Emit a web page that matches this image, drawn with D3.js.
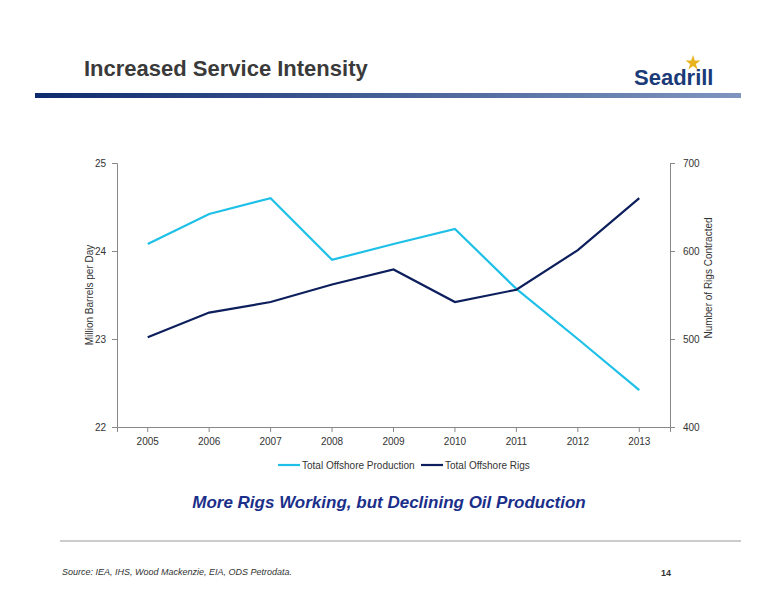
<!DOCTYPE html>
<html><head><meta charset="utf-8">
<script src="https://cdn.jsdelivr.net/npm/d3@7"></script>
<style>body{margin:0;background:#fff;font-family:Arial,"Liberation Sans",sans-serif}</style>
</head><body><div id="vis"></div>
<script>
var years = ["2005","2006","2007","2008","2009","2010","2011","2012","2013"];
var production = [24.08, 24.42, 24.6, 23.9, 24.08, 24.25, 23.57, 23.0, 22.42];
var rigs = [502, 530, 542, 562, 579, 542, 556, 601, 660];
var leftTicks = [22, 23, 24, 25];
var rightTicks = [400, 500, 600, 700];

var width = 776, height = 600;
var svg = d3.select("#vis").append("svg").attr("width", width).attr("height", height);

// header
svg.append("text").attr("x", 84).attr("y", 76).style("font-size", "22px").style("font-weight", "bold")
  .style("fill", "#3a3a3a").text("Increased Service Intensity");
var grad = svg.append("defs").append("linearGradient").attr("id", "hb");
grad.append("stop").attr("offset", "0").attr("stop-color", "#0d2a6e");
grad.append("stop").attr("offset", "1").attr("stop-color", "#7f95c0");
svg.append("rect").attr("x", 35).attr("y", 93).attr("width", 706).attr("height", 5).attr("fill", "url(#hb)");
svg.append("text").attr("x", 634).attr("y", 85).style("font-size", "22px").style("font-weight", "bold")
  .style("fill", "#1b3a78").text("Seadrill");
svg.append("path").attr("transform", "translate(693,63)")
  .attr("d", d3.symbol(d3.symbolStar, 70)()).attr("fill", "#e8b31c");

// chart
var x = d3.scaleBand().domain(years).range([117, 670]);
var yL = d3.scaleLinear().domain([22, 25]).range([427, 163]);
var yR = d3.scaleLinear().domain([400, 700]).range([427, 163]);

function styleAxis(g) {
  g.select(".domain").attr("stroke", "#888");
  g.selectAll(".tick line").attr("stroke", "#888");
  g.selectAll("text").style("font-size", "10px").style("fill", "#333").style("font-family", "Arial,'Liberation Sans',sans-serif");
}
svg.append("g").attr("transform", "translate(117,0)")
  .call(d3.axisLeft(yL).tickValues(leftTicks).tickFormat(d3.format("d")).tickSize(5).tickPadding(6)).call(styleAxis);
svg.append("g").attr("transform", "translate(670,0)")
  .call(d3.axisRight(yR).tickValues(rightTicks).tickSize(5).tickPadding(8)).call(styleAxis);
svg.append("g").attr("transform", "translate(0,427)")
  .call(d3.axisBottom(x).tickSize(5).tickPadding(6)).call(styleAxis);

svg.append("text").attr("transform", "translate(93,295) rotate(-90)").attr("text-anchor", "middle")
  .style("font-size", "10px").style("fill", "#333").text("Million Barrels per Day");
svg.append("text").attr("transform", "translate(712,278) rotate(-90)").attr("text-anchor", "middle")
  .style("font-size", "10px").style("fill", "#333").text("Number of Rigs Contracted");

var cx = function(d, i) { return x(years[i]) + x.bandwidth() / 2; };
svg.append("path").datum(production).attr("fill", "none").attr("stroke", "#1ec0e8").attr("stroke-width", 2.2)
  .attr("d", d3.line().x(cx).y(function(d) { return yL(d); }));
svg.append("path").datum(rigs).attr("fill", "none").attr("stroke", "#0c1f5c").attr("stroke-width", 2.2)
  .attr("d", d3.line().x(cx).y(function(d) { return yR(d); }));

// legend
svg.append("line").attr("x1", 278).attr("x2", 300).attr("y1", 465).attr("y2", 465).attr("stroke", "#1ec0e8").attr("stroke-width", 2.2);
svg.append("text").attr("x", 302).attr("y", 469).style("font-size", "10px").style("fill", "#333").text("Total Offshore Production");
svg.append("line").attr("x1", 421).attr("x2", 443).attr("y1", 465).attr("y2", 465).attr("stroke", "#0c1f5c").attr("stroke-width", 2.2);
svg.append("text").attr("x", 445).attr("y", 469).style("font-size", "10px").style("fill", "#333").text("Total Offshore Rigs");

svg.append("text").attr("x", 389).attr("y", 508).attr("text-anchor", "middle").style("font-size", "17px")
  .style("font-weight", "bold").style("font-style", "italic").style("fill", "#1b2f8a")
  .text("More Rigs Working, but Declining Oil Production");

// footer
svg.append("line").attr("x1", 60).attr("x2", 741).attr("y1", 541).attr("y2", 541).attr("stroke", "#999").attr("stroke-width", 1);
svg.append("text").attr("x", 62).attr("y", 575).style("font-size", "9px").style("font-style", "italic").style("fill", "#333")
  .text("Source: IEA, IHS, Wood Mackenzie, EIA, ODS Petrodata.");
svg.append("text").attr("x", 661).attr("y", 576).style("font-size", "9px").style("font-weight", "bold").style("fill", "#333").text("14");
</script></body></html>
